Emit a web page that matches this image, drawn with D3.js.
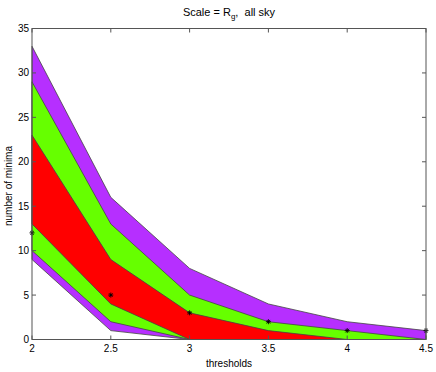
<!DOCTYPE html>
<html><head><meta charset="utf-8">
<script src="https://cdn.jsdelivr.net/npm/d3@7"></script>
<style>body{margin:0;background:#fff}svg{display:block}text{font-family:"Liberation Sans",Arial,sans-serif;}</style>
</head><body>
<svg id="c" width="436" height="372"></svg>
<script>
const thresholds = [2, 2.5, 3, 3.5, 4, 4.5];
const purpleUpper = [33, 16, 8, 4, 2, 1];
const greenUpper  = [29, 13, 5, 2, 1, 0];
const redUpper    = [23, 9, 3, 1, 0, 0];
const median      = [12, 5, 3, 2, 1, 1];
const redLower    = [13, 4, 0, 0, 0, 0];
const greenLower  = [10, 2, 0, 0, 0, 0];
const purpleLower = [9, 1, 0, 0, 0, 0];
const xTicks = [2, 2.5, 3, 3.5, 4, 4.5];
const yTicks = [0, 5, 10, 15, 20, 25, 30, 35];

const svg = d3.select("#c");
const L = 32, R = 426, T = 28.5, B = 339.5;
const x = d3.scaleLinear().domain([2, 4.5]).range([L, R]);
const y = d3.scaleLinear().domain([0, 35]).range([B, T]);

const bands = [
  {lo: purpleLower, hi: purpleUpper, fill: "#b62fff"},
  {lo: greenLower, hi: greenUpper, fill: "#66ff00"},
  {lo: redLower, hi: redUpper, fill: "#ff0000"}
];
const area = d3.area().x(d => x(d.x)).y0(d => y(d.lo)).y1(d => y(d.hi));
bands.forEach(b => {
  const data = thresholds.map((t, i) => ({x: t, lo: b.lo[i], hi: b.hi[i]}));
  svg.append("path").attr("d", area(data) + "Z")
    .attr("fill", b.fill).attr("stroke", "#444").attr("stroke-width", 0.8);
});

// median asterisks
const star = (cx, cy, r) => {
  let p = "";
  for (let k = 0; k < 4; k++) {
    const a = k * Math.PI / 4;
    p += `M${cx - r*Math.cos(a)},${cy - r*Math.sin(a)}L${cx + r*Math.cos(a)},${cy + r*Math.sin(a)}`;
  }
  return p;
};
svg.append("g").selectAll("path").data(thresholds).join("path")
  .attr("d", (t, i) => star(x(t), y(median[i]), 2.5))
  .attr("stroke", "#000").attr("stroke-width", 0.9).attr("fill", "none");

// frame
svg.append("rect").attr("x", L).attr("y", T).attr("width", R - L).attr("height", B - T)
  .attr("fill", "none").attr("stroke", "#555").attr("stroke-width", 1);

const tk = 4;
const g = svg.append("g").attr("stroke", "#555").attr("stroke-width", 1);
xTicks.forEach(t => {
  g.append("line").attr("x1", x(t)).attr("x2", x(t)).attr("y1", B).attr("y2", B - tk);
  g.append("line").attr("x1", x(t)).attr("x2", x(t)).attr("y1", T).attr("y2", T + tk);
});
yTicks.forEach(t => {
  g.append("line").attr("x1", L).attr("x2", L + tk).attr("y1", y(t)).attr("y2", y(t));
  g.append("line").attr("x1", R).attr("x2", R - tk).attr("y1", y(t)).attr("y2", y(t));
});

svg.append("g").selectAll("text").data(xTicks).join("text")
  .attr("x", d => x(d)).attr("y", B + 12).attr("text-anchor", "middle")
  .attr("font-size", 10).text(d => d);
svg.append("g").selectAll("text").data(yTicks).join("text")
  .attr("x", L - 3).attr("y", d => y(d) + 3.5).attr("text-anchor", "end")
  .attr("font-size", 10).text(d => d);

svg.append("text").attr("x", 229).attr("y", 367).attr("text-anchor", "middle")
  .attr("font-size", 10).text("thresholds");
svg.append("text").attr("transform", "translate(12,186) rotate(-90)").attr("text-anchor", "middle")
  .attr("font-size", 10).text("number of minima");

const title = svg.append("text").attr("x", 229).attr("y", 16).attr("text-anchor", "middle").attr("font-size", 11);
title.append("tspan").text("Scale = R");
title.append("tspan").attr("font-size", 8).attr("dy", 3).text("g");
title.append("tspan").attr("dy", -3).text(",\u00a0\u00a0all sky");
</script>
</body></html>
